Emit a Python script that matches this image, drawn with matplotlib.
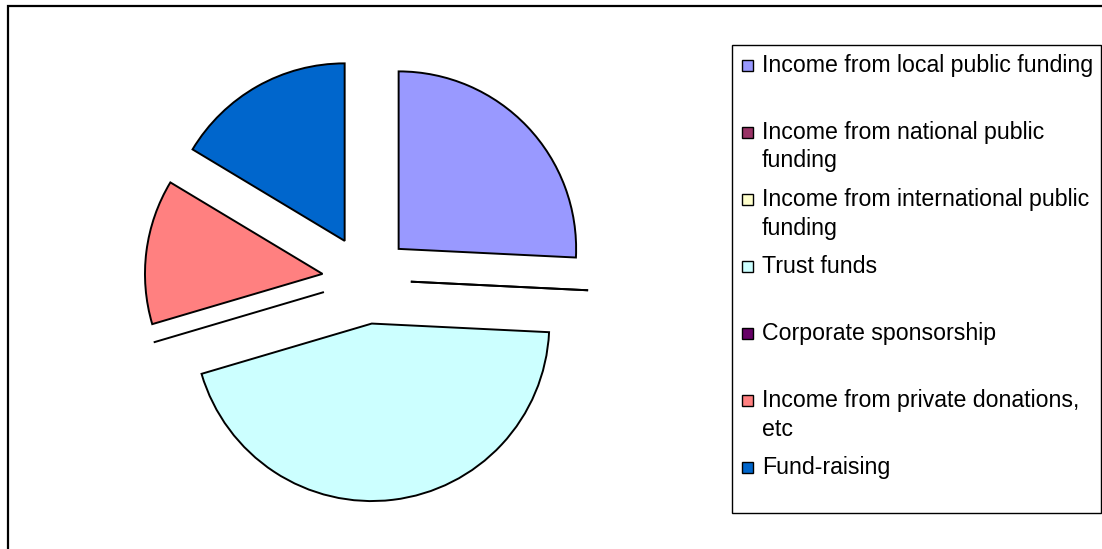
import matplotlib
matplotlib.use("Agg")
import matplotlib.pyplot as plt
from matplotlib.patches import Rectangle

labels = [
    "Income from local public funding",
    "Income from national public\nfunding",
    "Income from international public\nfunding",
    "Trust funds",
    "Corporate sponsorship",
    "Income from private donations,\netc",
    "Fund-raising",
]
values = [25.8, 0, 0, 44.7, 0, 13.2, 16.4]
colors = ["#9999FF", "#993366", "#FFFFCC", "#CCFFFF", "#660066", "#FF8080", "#0066CC"]

W, H = 1102, 549
fig = plt.figure(figsize=(W / 100, H / 100), dpi=100)
plt.rcParams['font.family'] = ['Liberation Sans', 'DejaVu Sans']

# pie axes
R = 177.5
cx, cy = 366.5, 279.5  # pixel centre (from top)
ax = fig.add_axes([0, 0, 730 / W, 1])
ax.pie(values, colors=colors, startangle=90, counterclock=False,
       explode=[0.25] * len(values), radius=1,
       wedgeprops=dict(edgecolor="black", linewidth=1.4))
ax.set_aspect("auto")
ax.set_xlim(-cx / R, (730 - cx) / R)
ax.set_ylim(-(H - cy) / R, cy / R)
ax.axis("off")

# outer chart border
fig.patches.append(Rectangle((8 / W, -0.5), 2, 1.5 - 6 / H, transform=fig.transFigure,
                             fill=False, edgecolor="black", linewidth=1.6))

# legend box
lx0, ly0, lx1, ly1 = 732, 45, 1101, 513
fig.patches.append(Rectangle((lx0 / W, 1 - ly1 / H), (lx1 - lx0) / W, (ly1 - ly0) / H,
                             transform=fig.transFigure, fill=False,
                             edgecolor="black", linewidth=1.0))

slot = 67.0
first = 65.5
msize = 11.0
for i, (lab, col) in enumerate(zip(labels, colors)):
    yc = first + i * slot
    fig.patches.append(Rectangle(((742) / W, 1 - (yc + msize / 2) / H), msize / W, msize / H,
                                 transform=fig.transFigure, facecolor=col,
                                 edgecolor="black", linewidth=1.0))
    for j, line in enumerate(lab.split("\n")):
        yb = yc + 6.5 + j * 28.5
        fig.text(762 / W, 1 - yb / H, line, fontsize=16.7, va="baseline", ha="left")

fig.savefig("out.png", dpi=100)
